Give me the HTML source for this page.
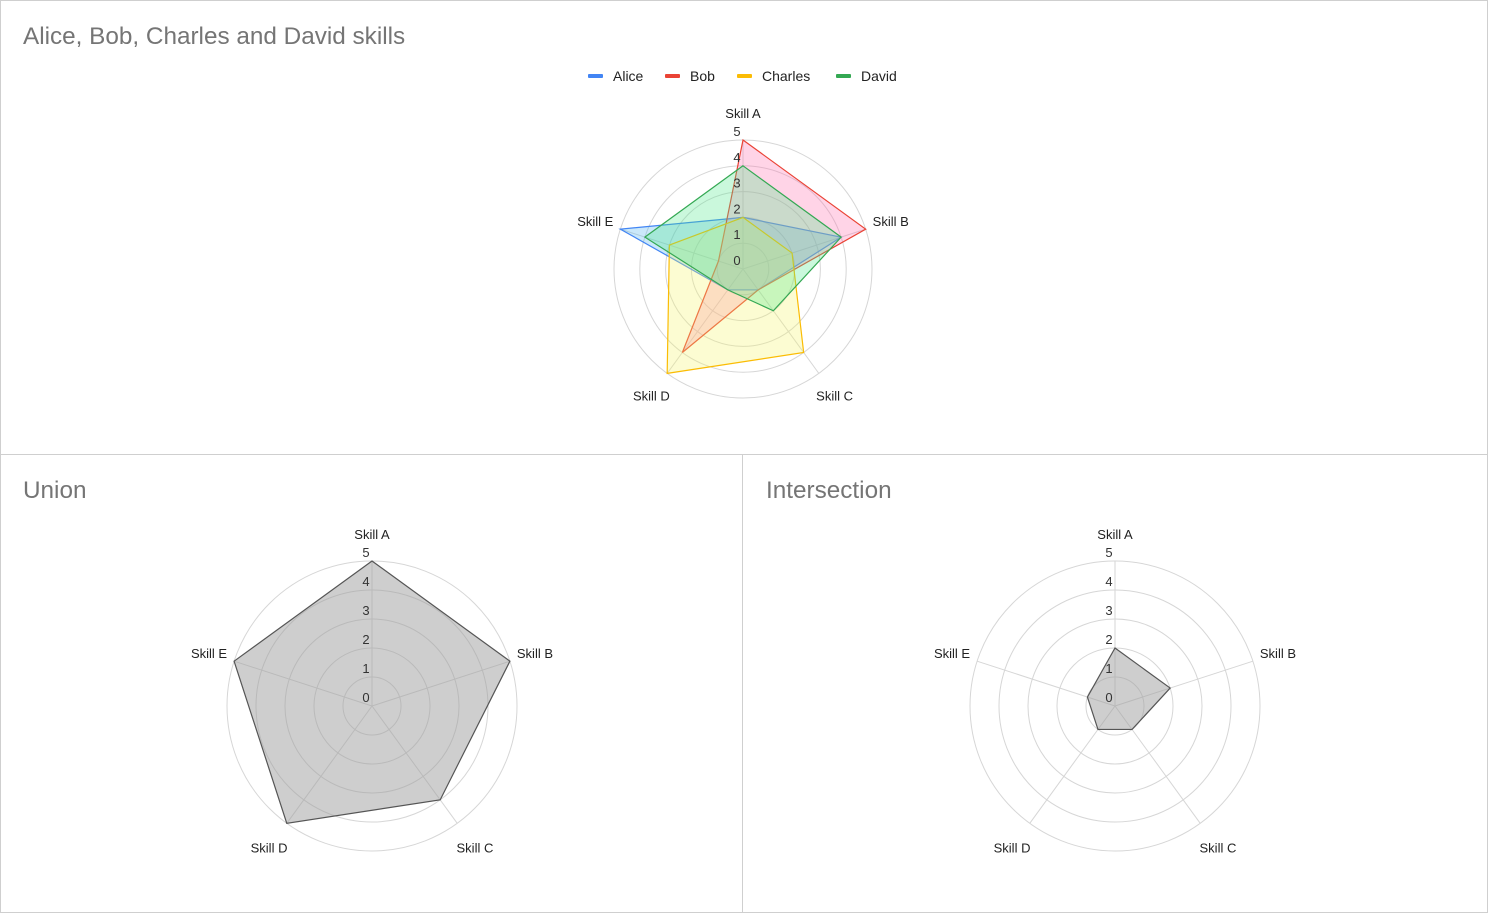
<!DOCTYPE html>
<html><head><meta charset="utf-8">
<style>
body{margin:0;width:1488px;height:913px;background:#fff;font-family:"Liberation Sans",Arial,sans-serif;overflow:hidden;position:relative}
.panel{position:absolute;border:1px solid #cfcfcf;box-sizing:border-box;background:#fff}
.title{position:absolute;left:23px;top:23px;font-size:24.3px;color:#757575}
svg{position:absolute;left:0;top:0}
</style></head><body>
<div class="panel" style="left:0;top:0;width:1488px;height:455px"></div>
<div class="panel" style="left:0;top:454px;width:743px;height:459px"></div>
<div class="panel" style="left:742px;top:454px;width:746px;height:459px"></div>
<div class="title">Alice, Bob, Charles and David skills</div>
<div class="title" style="top:477px">Union</div>
<div class="title" style="left:766px;top:477px">Intersection</div>
<svg id="svg" width="1488" height="913"></svg>
<script>
const skills=["Skill A","Skill B","Skill C","Skill D","Skill E"];
const tickLabels=[0,1,2,3,4,5];
const names=["Alice","Bob","Charles","David"];
const alice=[2,4,1,1,5];
const bob=[5,5,1,4,1];
const charles=[2,2,4,5,3];
const david=[4,4,2,1,4];
const colors=["#4285f4","#ea4335","#fbbc04","#34a853"];
const fills=["#4fb3f0","#ff6fb0","#f5f56a","#4ee88a"];
const series=[alice,bob,charles,david];
const union=skills.map((s,i)=>Math.max(...series.map(d=>d[i])));
const inter=skills.map((s,i)=>Math.min(...series.map(d=>d[i])));
const NS="http://www.w3.org/2000/svg";
const svg=document.getElementById("svg");
function mk(tag,attrs,parent){const e=document.createElementNS(NS,tag);for(const k in attrs)e.setAttribute(k,attrs[k]);(parent||svg).appendChild(e);return e;}
function radar(cx,cy,R,list,prefix){
  const max=5;
  const ang=i=>-Math.PI/2+i*2*Math.PI/skills.length;
  const pt=(i,v)=>[cx+Math.cos(ang(i))*v/max*R,cy+Math.sin(ang(i))*v/max*R];
  const g=mk("g",{});
  
  
  for(let k=1;k<=max;k++){
    const c=mk("circle",{cx:cx,cy:cy,r:k/max*R,fill:"none",stroke:"#d6d6d6","stroke-width":1},g);
    
    
  }
  skills.forEach((s,i)=>{
    const p=pt(i,max);
    const l=mk("line",{x1:cx,y1:cy,x2:p[0],y2:p[1],stroke:"#d6d6d6"},g);
    
    
  });
  list.forEach(o=>{
    const pts=o.data.map((v,i)=>pt(i,v).join(",")).join(" ");
    const p=mk("polygon",{points:pts,fill:o.fill,"fill-opacity":o.op,stroke:o.stroke,"stroke-width":1.2,"stroke-linejoin":"miter"},g);
    
    
  });
  tickLabels.forEach(t=>{
    const y=cy-t/max*R-9;
    const tx=mk("text",{x:cx-6,y:y+5,"text-anchor":"middle","font-size":13,fill:"#333"},g);
    tx.textContent=t;
    
    
  });
  skills.forEach((s,i)=>{
    const a=ang(i);let x,y,anc;
    if(i===0){x=cx;y=cy-R-26;anc="middle";}
    else if(i===1){x=cx+Math.cos(a)*R+7;y=cy+Math.sin(a)*R-7;anc="start";}
    else if(i===4){x=cx+Math.cos(a)*R-7;y=cy+Math.sin(a)*R-7;anc="end";}
    else{y=cy+R*0.92+9;x=cx+(i===2?1:-1)*R*0.71;anc="middle";}
    const tx=mk("text",{x:x,y:y+4,"text-anchor":anc,"font-size":13,fill:"#222"},g);
    tx.textContent=s;
    
    
  });
}
radar(743,269,129,series.map((d,i)=>({data:d,fill:fills[i],op:0.3,stroke:colors[i],name:names[i].toLowerCase()})),"skills");
radar(372,706,145,[{data:union,fill:"#9e9e9e",op:0.5,stroke:"#555",name:"union"}],"union");
radar(1115,706,145,[{data:inter,fill:"#9e9e9e",op:0.5,stroke:"#555",name:"intersection"}],"intersection");
const lx=[588,665,737,836];
names.forEach((n,i)=>{
  const g=mk("g",{});
  
  
  mk("rect",{x:lx[i],y:74,width:15,height:4,rx:1,fill:colors[i]},g);
  const t=mk("text",{x:lx[i]+25,y:81,"font-size":14,fill:"#222"},g);
  t.textContent=n;
});
</script>
</body></html>
